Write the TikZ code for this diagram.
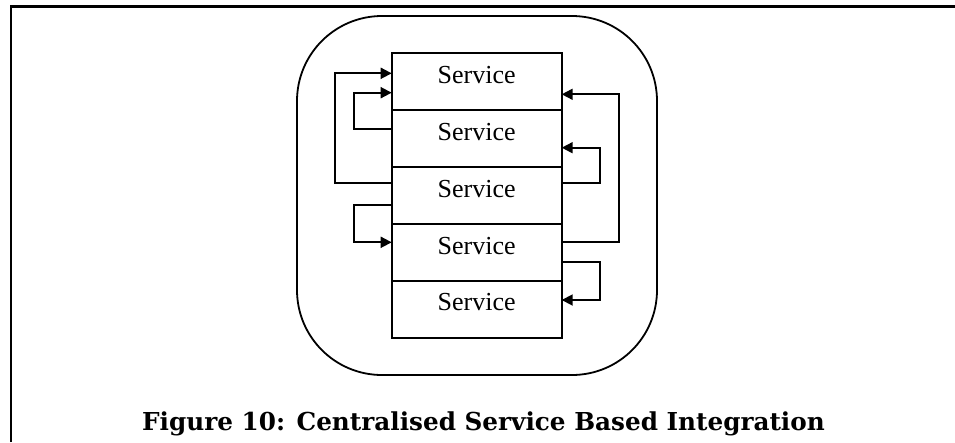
\documentclass[tikz,border=0pt]{standalone}
\usepackage{fontspec}
\setmainfont{Liberation Serif}
\newfontfamily\capfont{DejaVu Serif}
\usetikzlibrary{arrows.meta}
\begin{document}
\begin{tikzpicture}[x=1pt,y=-1pt,
  svcbox/.style={draw, line width=2.1pt, minimum width=170pt, minimum height=56.9pt, inner sep=0pt, outer sep=0pt, anchor=north west},
  svctext/.style={anchor=base, inner sep=0pt, font=\fontsize{26}{30}\selectfont},
  arr/.style={line width=1.8pt, -{Triangle[length=11pt,width=11pt]}},
  frameline/.style={line width=2.6pt},
]
\useasboundingbox (0,0) rectangle (955,442);
% frame
\draw[frameline] (11,442) -- (11,6.5) -- (955,6.5);
% rounded container
\draw[line width=1.8pt, rounded corners=85pt] (297,16) rectangle (657,375);
% boxes
\foreach \i/\t in {1/53.3,2/110.2,3/167.1,4/224.0,5/280.9}{
  \node[svcbox] (s\i) at (391.7,\t) {};
  \node[svctext] (t\i) at ([yshift=-30pt]s\i.north) {Service};
}
% left connectors
\draw[arr] ([yshift=-16.2pt]s3.north west) -- ++(-56.7,0) |- ([yshift=-20pt]s1.north west);
\draw[arr] ([yshift=-19.1pt]s2.north west) -- ++(-37.7,0) |- ([yshift=-39.4pt]s1.north west);
\draw[arr] ([yshift=-37.9pt]s3.north west) -- ++(-37.7,0) |- ([yshift=-18.3pt]s4.north west);
% right connectors
\draw[arr] ([yshift=-17.7pt]s4.north east) -- ++(57.6,0) |- ([yshift=-41pt]s1.north east);
\draw[arr] ([yshift=-16.2pt]s3.north east) -- ++(38.3,0) |- ([yshift=-37.5pt]s2.north east);
\draw[arr] ([yshift=-38.3pt]s4.north east) -- ++(38.3,0) |- ([yshift=-19.1pt]s5.north east);
% caption
\node[anchor=base, inner sep=0pt, font=\capfont\bfseries\fontsize{24.7}{29}\selectfont] (cap) at (483.5,430) {Figure 10: Centralised Service Based Integration};
\end{tikzpicture}
\end{document}
